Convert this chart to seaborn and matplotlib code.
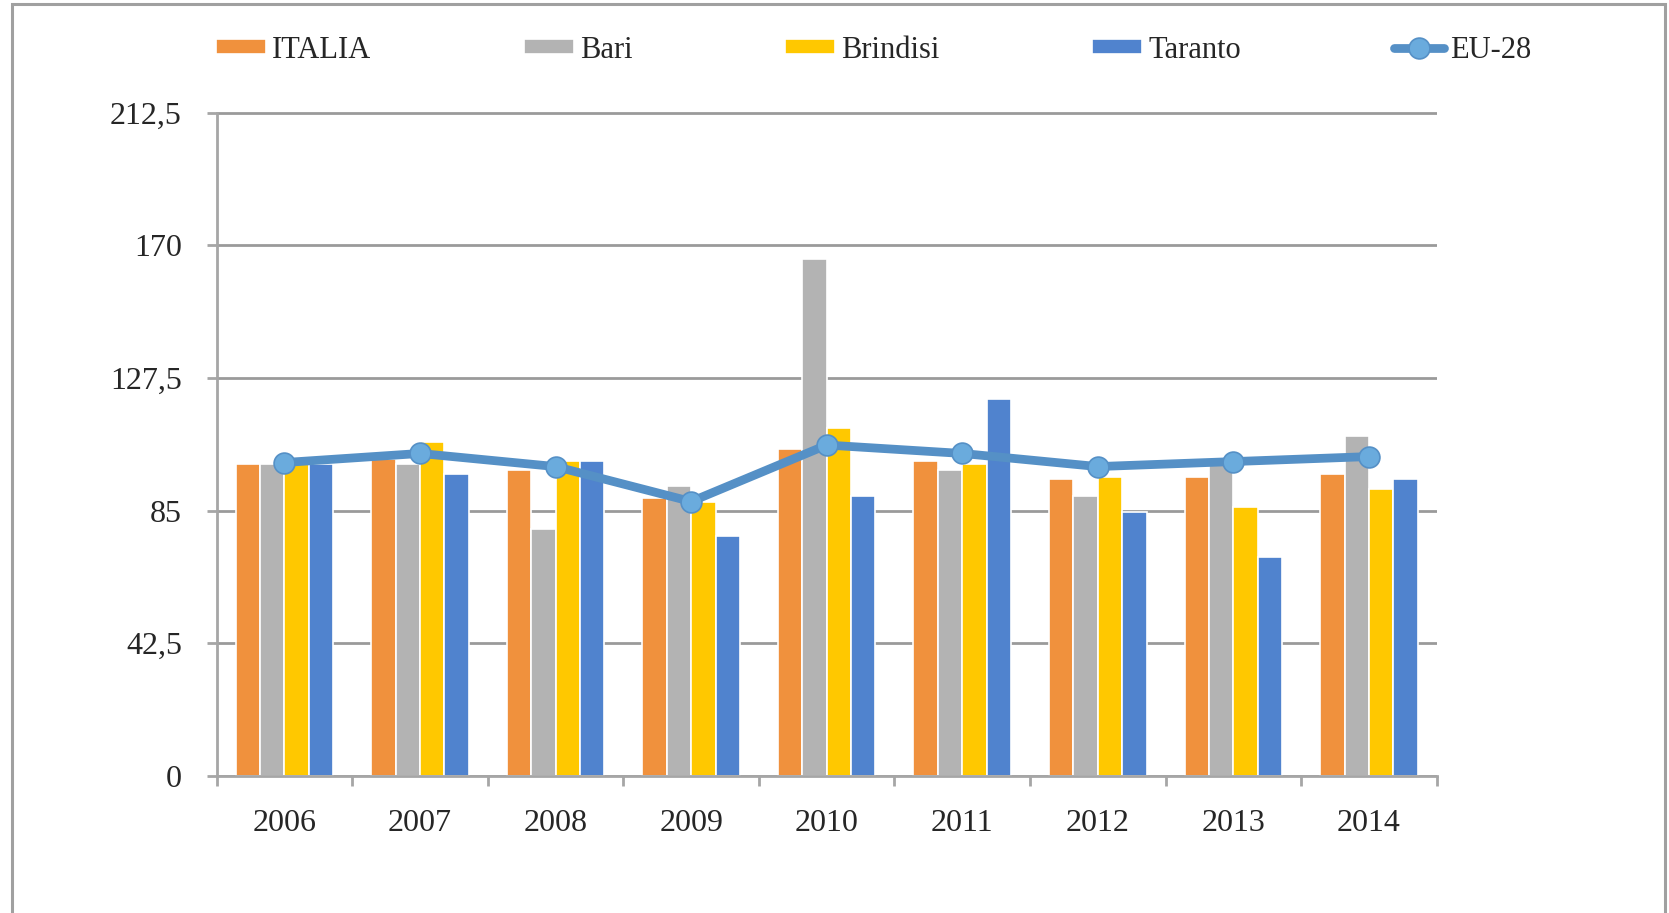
#!/usr/bin/env python3

import matplotlib.pyplot as plt
import numpy as np
import pandas as pd
import seaborn as sns
from matplotlib.patches import Rectangle
from matplotlib.ticker import FixedLocator


years = ["2006", "2007", "2008", "2009", "2010", "2011", "2012", "2013", "2014"]
italia = [100.0, 101.5, 98.0, 89.0, 104.7, 100.8, 95.0, 95.9, 96.6]
bari = [100.0, 100.0, 79.2, 92.9, 165.6, 98.0, 89.7, 100.0, 108.9]
brindisi = [100.0, 106.9, 100.9, 87.7, 111.6, 99.9, 95.9, 86.1, 91.9]
taranto = [100.0, 96.6, 100.8, 77.0, 89.7, 120.6, 84.7, 70.0, 95.0]
eu28 = [100.4, 103.3, 99.1, 87.9, 106.0, 103.3, 99.1, 100.7, 102.3]

series_names = ["ITALIA", "Bari", "Brindisi", "Taranto"]
colours = ["#F0913D", "#B3B3B3", "#FFC800", "#5083CE"]
yticks = [0, 42.5, 85, 127.5, 170, 212.5]

df = pd.DataFrame({
    "year": years * 4,
    "series": [s for s in series_names for _ in years],
    "value": italia + bari + brindisi + taranto,
})

sns.set_style("white")
plt.rcParams["font.family"] = ["Liberation Serif", "DejaVu Serif"]

fig = plt.figure(figsize=(16.69, 9.13), dpi=100)
ax = fig.add_axes([216.7 / 1669, 137 / 913, 1220 / 1669, 663.5 / 913])

sns.barplot(data=df, x="year", y="value", hue="series", palette=colours,
            hue_order=series_names, order=years, width=0.72, saturation=1,
            edgecolor="white", linewidth=1.2, ax=ax, zorder=2)

sns.lineplot(x=np.arange(len(years)), y=eu28, color="#5590C6", linewidth=6.3,
             marker="o", markersize=15, markerfacecolor="#6AABDD",
             markeredgecolor="#5590C6", markeredgewidth=1.2, label="EU-28",
             ax=ax, zorder=4)

ax.set_xlim(-0.5, len(years) - 0.5)
ax.set_ylim(0, 212.5)
ax.set_yticks(yticks)
ax.set_yticklabels([f"{t:g}".replace(".", ",") for t in yticks])
ax.yaxis.grid(True, color="#9A9A9A", linewidth=2, zorder=0)
ax.set_axisbelow(True)
ax.set_xlabel("")
ax.set_ylabel("")

for side in ["top", "right"]:
    ax.spines[side].set_visible(False)
for side in ["left", "bottom"]:
    ax.spines[side].set_color("#A6A6A6")
    ax.spines[side].set_linewidth(2)

ax.xaxis.set_minor_locator(FixedLocator(np.arange(-0.5, len(years), 1)))
ax.tick_params(axis="x", which="major", length=0, pad=24, labelsize=23)
ax.tick_params(axis="x", which="minor", length=7, width=2, color="#A6A6A6",
               direction="out", bottom=True)
ax.tick_params(axis="y", which="major", length=7, width=2, color="#A6A6A6",
               direction="out", left=True, pad=18, labelsize=23)

handles, labels = ax.get_legend_handles_labels()
ax.legend_.remove()
order = [labels.index(n) for n in series_names + ["EU-28"]]
fig.legend([handles[i] for i in order], [labels[i] for i in order],
           loc="center left", bbox_to_anchor=(216 / 1669, 1 - 50 / 913),
           ncol=5, frameon=False, fontsize=22, handlelength=1.63,
           handleheight=0.4, handletextpad=0.2, columnspacing=5.0,
           borderpad=0, borderaxespad=0)

fig.patches.append(Rectangle((11.7 / 1669, -0.05), (1665 - 11.7) / 1669,
                             1.05 - 4.5 / 913, transform=fig.transFigure,
                             fill=False, edgecolor="#A0A0A0", linewidth=2.2))

plt.savefig("out.png", dpi=100)
